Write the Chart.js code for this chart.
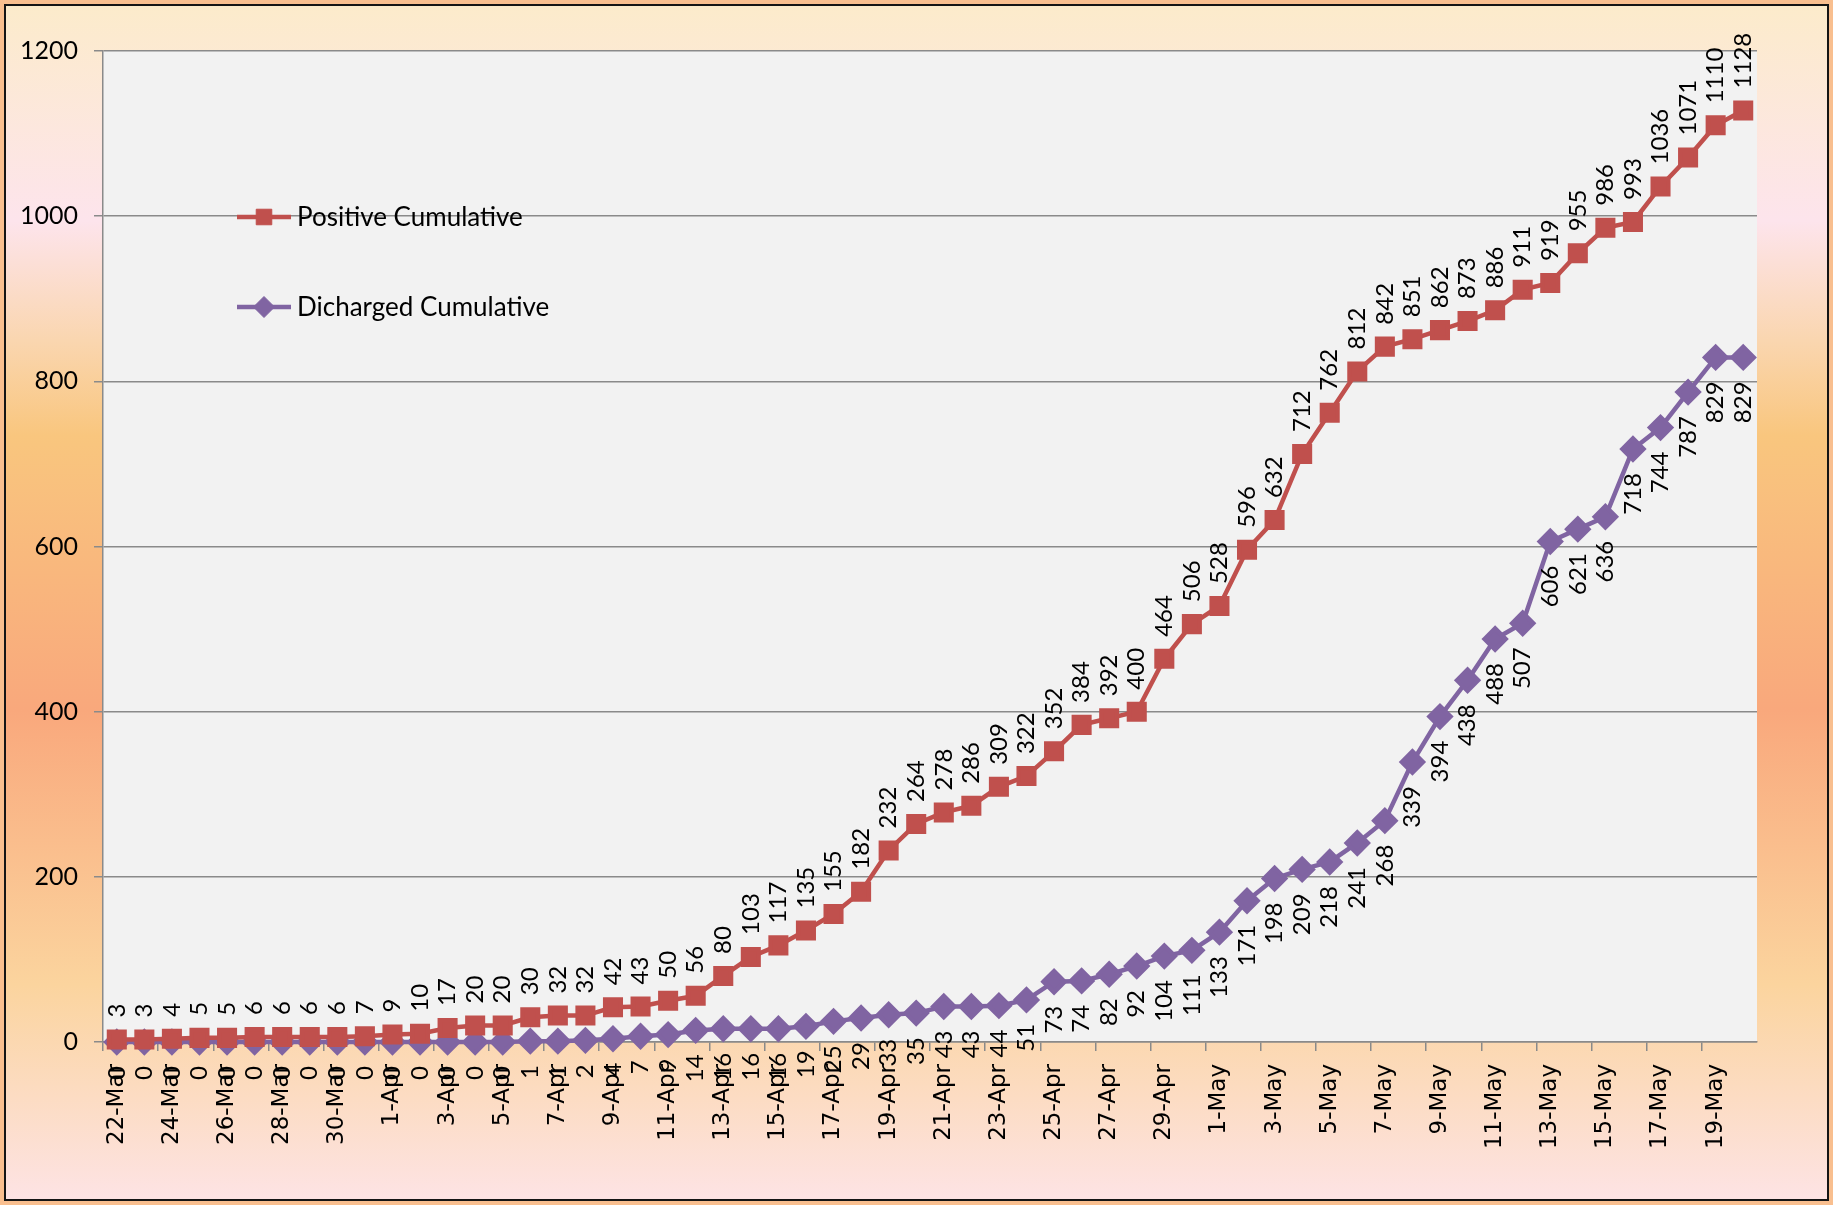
<!DOCTYPE html>
<html lang="en">
<head>
<meta charset="UTF-8" />
<title>Positive and Discharged Cumulative</title>
<script src="https://cdn.jsdelivr.net/npm/chart.js"></script>
<style>
  html, body { margin: 0; padding: 0; background: #fff; }
  #frame {
    position: absolute; left: 0; top: 0;
    width: 1833px; height: 1205px;
    box-sizing: border-box;
    border: 4px solid #f9bf8f;
  }
  #inner {
    width: 100%; height: 100%;
    box-sizing: border-box;
    border: 2px solid #151515;
    background: linear-gradient(to bottom, #fcebcb 0%, #fde4ec 18%, #fad6b0 28%, #f9c67e 36%, #f9a87c 59%, #fbd49e 82%, #fde3e4 100%);
  }
  canvas { display: block; }
</style>
</head>
<body>
<div id="frame"><div id="inner"><canvas id="chart" width="1821" height="1193"></canvas></div></div>
<script>
  const dates = [
    '22-Mar', '23-Mar', '24-Mar', '25-Mar', '26-Mar', '27-Mar', '28-Mar', '29-Mar', '30-Mar', '31-Mar',
    '1-Apr', '2-Apr', '3-Apr', '4-Apr', '5-Apr', '6-Apr', '7-Apr', '8-Apr', '9-Apr', '10-Apr',
    '11-Apr', '12-Apr', '13-Apr', '14-Apr', '15-Apr', '16-Apr', '17-Apr', '18-Apr', '19-Apr', '20-Apr',
    '21-Apr', '22-Apr', '23-Apr', '24-Apr', '25-Apr', '26-Apr', '27-Apr', '28-Apr', '29-Apr', '30-Apr',
    '1-May', '2-May', '3-May', '4-May', '5-May', '6-May', '7-May', '8-May', '9-May', '10-May',
    '11-May', '12-May', '13-May', '14-May', '15-May', '16-May', '17-May', '18-May', '19-May', '20-May'
  ];

  const positive = [
    3, 3, 4, 5, 5, 6, 6, 6, 6, 7,
    9, 10, 17, 20, 20, 30, 32, 32, 42, 43,
    50, 56, 80, 103, 117, 135, 155, 182, 232, 264,
    278, 286, 309, 322, 352, 384, 392, 400, 464, 506,
    528, 596, 632, 712, 762, 812, 842, 851, 862, 873,
    886, 911, 919, 955, 986, 993, 1036, 1071, 1110, 1128
  ];

  const discharged = [
    0, 0, 0, 0, 0, 0, 0, 0, 0, 0,
    0, 0, 0, 0, 0, 1, 1, 2, 4, 7,
    9, 14, 16, 16, 16, 19, 25, 29, 33, 35,
    43, 43, 44, 51, 73, 74, 82, 92, 104, 111,
    133, 171, 198, 209, 218, 241, 268, 339, 394, 438,
    488, 507, 606, 621, 636, 718, 744, 787, 829, 829
  ];

  const yTicks = [0, 200, 400, 600, 800, 1000, 1200];
  const seriesNames = ['Positive Cumulative', 'Dicharged Cumulative'];
  const labelSide = ['above', 'below'];

  const gridGray = '#8a8a8a';

  // grey plot area behind the lines
  const plotBg = {
    id: 'plotBg',
    beforeDraw(chart) {
      const { ctx, chartArea: a } = chart;
      ctx.save();
      ctx.fillStyle = '#f2f2f2';
      ctx.fillRect(a.left, a.top, a.right - a.left, a.bottom - a.top);
      ctx.restore();
    }
  };

  // vertical value labels, above the red points and below the purple ones
  const pointLabels = {
    id: 'pointLabels',
    afterDraw(chart) {
      const ctx = chart.ctx;
      ctx.save();
      ctx.font = '24px Lato';
      ctx.fillStyle = '#000';
      ctx.textBaseline = 'middle';
      chart.data.datasets.forEach((ds, i) => {
        const above = labelSide[i] === 'above';
        chart.getDatasetMeta(i).data.forEach((pt, j) => {
          ctx.save();
          ctx.translate(pt.x, above ? pt.y - 22 : pt.y + 24);
          ctx.rotate(-Math.PI / 2);
          ctx.textAlign = above ? 'left' : 'right';
          ctx.fillText(String(ds.data[j]), 0, 0);
          ctx.restore();
        });
      });
      ctx.restore();
    }
  };

  // legend sits inside the plot, upper left
  const insideLegend = {
    id: 'insideLegend',
    afterDraw(chart) {
      const { ctx, chartArea } = chart;
      const x0 = chartArea.left + 134;
      const rows = [chartArea.top + 166, chartArea.top + 256];
      chart.data.datasets.forEach((ds, i) => {
        const y = rows[i];
        ctx.save();
        ctx.strokeStyle = ds.borderColor;
        ctx.lineWidth = 4.5;
        ctx.beginPath();
        ctx.moveTo(x0, y);
        ctx.lineTo(x0 + 54, y);
        ctx.stroke();
        ctx.fillStyle = ds.pointBackgroundColor;
        ctx.lineWidth = 1;
        Chart.helpers.drawPoint(ctx, { pointStyle: ds.pointStyle, radius: ds.pointRadius, rotation: 0, borderWidth: 1 }, x0 + 27, y);
        ctx.fillStyle = '#000';
        ctx.font = '26px Lato';
        ctx.textBaseline = 'middle';
        ctx.textAlign = 'left';
        ctx.fillText(ds.label, x0 + 60, y + 1);
        ctx.restore();
      });
    }
  };

  Chart.defaults.font.family = 'Lato';
  Chart.defaults.color = '#000';

  new Chart(document.getElementById('chart'), {
    type: 'line',
    data: {
      labels: dates,
      datasets: [
        {
          label: seriesNames[0],
          data: positive,
          borderColor: '#c0504d',
          backgroundColor: '#c0504d',
          pointBackgroundColor: '#c0504d',
          pointBorderColor: '#c0504d',
          pointStyle: 'rect',
          pointRadius: 11,
          borderWidth: 4.5,
          tension: 0,
          clip: false
        },
        {
          label: seriesNames[1],
          data: discharged,
          borderColor: '#8064a2',
          backgroundColor: '#8064a2',
          pointBackgroundColor: '#8064a2',
          pointBorderColor: '#8064a2',
          pointStyle: 'rectRot',
          pointRadius: 10.5,
          borderWidth: 4.5,
          tension: 0,
          clip: false
        }
      ]
    },
    options: {
      responsive: false,
      animation: false,
      layout: { padding: { top: 45, right: 70, left: 0, bottom: 0 } },
      plugins: {
        legend: { display: false },
        tooltip: { enabled: false }
      },
      scales: {
        x: {
          type: 'category',
          offset: true,
          grid: {
            offset: true,
            drawOnChartArea: false,
            drawTicks: true,
            tickLength: 9,
            lineWidth: 1.5,
            color: c => (c.index % 2 === 0 ? gridGray : 'rgba(0,0,0,0)')
          },
          border: { display: true, color: gridGray, width: 1.5 },
          ticks: {
            autoSkip: false,
            minRotation: 90,
            maxRotation: 90,
            padding: 13,
            font: { family: 'DejaVu Sans', size: 23 },
            color: '#000',
            callback: function (value, index) {
              return index % 2 === 0 ? this.getLabelForValue(value) : '';
            }
          },
          afterFit: s => { s.height = 157; }
        },
        y: {
          min: 0,
          max: 1200,
          afterBuildTicks: s => { s.ticks = yTicks.map(v => ({ value: v })); },
          grid: { color: gridGray, lineWidth: 1.5, tickLength: 9 },
          border: { display: true, color: gridGray, width: 1.5 },
          ticks: {
            font: { size: 25 },
            color: '#000',
            padding: 16,
            callback: v => String(v)
          },
          afterFit: s => { s.width = 97; }
        }
      }
    },
    plugins: [plotBg, pointLabels, insideLegend]
  });
</script>
</body>
</html>
